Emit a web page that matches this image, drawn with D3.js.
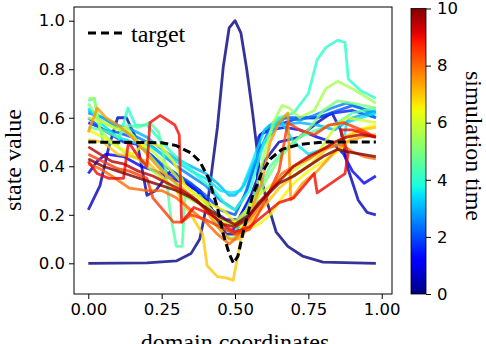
<!DOCTYPE html>
<html>
<head>
<meta charset="utf-8">
<script src="https://cdn.jsdelivr.net/npm/d3@7"></script>
<style>
  html, body { margin: 0; padding: 0; background: #fff; }
  svg { display: block; }
</style>
</head>
<body>
<div id="chart"></div>
<script>
// tick labels
const xTicks = [0, 0.25, 0.5, 0.75, 1.0];
const yTicks = [0, 0.2, 0.4, 0.6, 0.8, 1.0];
const cbTicks = [0, 2, 4, 6, 8, 10];

// target profile
const target = [[0,0.5],[0.25,0.497],[0.3,0.485],[0.35,0.455],[0.38,0.42],[0.41,0.35],[0.44,0.23],[0.46,0.12],[0.48,0.04],[0.495,0.0],[0.51,0.03],[0.53,0.14],[0.56,0.28],[0.59,0.37],[0.62,0.43],[0.66,0.47],[0.72,0.49],[0.8,0.5],[0.98,0.5]];

// simulation snapshots, one per time value
const times = [0, 0.5, 1, 1.5, 2, 2.5, 3, 3.5, 4, 4.5, 5, 5.5, 6, 6.5, 7, 7.5, 8, 8.5, 9, 9.5, 10];

const s00 = [[0,0],[0.2,0.002],[0.3,0.01],[0.35,0.04],[0.38,0.1],[0.41,0.28],[0.44,0.56],[0.46,0.81],[0.48,0.97],[0.5,1.0],[0.52,0.95],[0.54,0.8],[0.56,0.62],[0.585,0.37],[0.61,0.25],[0.64,0.13],[0.68,0.07],[0.73,0.03],[0.8,0.005],[0.98,0]];
const s05 = [[0,0.22],[0.04,0.32],[0.07,0.48],[0.1,0.6],[0.13,0.6],[0.165,0.51],[0.2,0.28],[0.23,0.3],[0.28,0.38],[0.33,0.34],[0.38,0.3],[0.43,0.2],[0.47,0.12],[0.5,0.12],[0.53,0.2],[0.57,0.33],[0.6,0.42],[0.65,0.5],[0.72,0.52],[0.78,0.58],[0.83,0.62],[0.86,0.55],[0.885,0.39],[0.92,0.26],[0.95,0.21],[0.98,0.2]];
const s10 = [[0,0.37],[0.03,0.42],[0.06,0.45],[0.12,0.44],[0.18,0.4],[0.23,0.38],[0.28,0.35],[0.33,0.33],[0.37,0.3],[0.41,0.25],[0.45,0.15],[0.49,0.13],[0.52,0.2],[0.55,0.27],[0.575,0.3],[0.585,0.53],[0.62,0.55],[0.67,0.56],[0.72,0.55],[0.78,0.52],[0.83,0.5],[0.87,0.45],[0.9,0.38],[0.94,0.33],[0.98,0.36]];
const s15 = [[0,0.58],[0.04,0.56],[0.08,0.53],[0.12,0.5],[0.17,0.49],[0.22,0.44],[0.27,0.37],[0.32,0.34],[0.37,0.3],[0.42,0.22],[0.47,0.18],[0.51,0.18],[0.55,0.26],[0.575,0.3],[0.58,0.52],[0.62,0.57],[0.67,0.58],[0.72,0.6],[0.78,0.6],[0.84,0.62],[0.9,0.63],[0.98,0.6]];
const s20 = [[0,0.6],[0.05,0.55],[0.1,0.54],[0.15,0.52],[0.2,0.46],[0.25,0.41],[0.3,0.37],[0.35,0.33],[0.4,0.28],[0.45,0.22],[0.5,0.2],[0.54,0.3],[0.58,0.45],[0.62,0.56],[0.67,0.6],[0.72,0.6],[0.78,0.6],[0.85,0.63],[0.9,0.65],[0.98,0.62]];
const s25 = [[0,0.62],[0.05,0.6],[0.1,0.56],[0.15,0.53],[0.2,0.5],[0.25,0.45],[0.3,0.4],[0.35,0.36],[0.4,0.32],[0.45,0.26],[0.5,0.22],[0.53,0.27],[0.57,0.42],[0.62,0.55],[0.67,0.6],[0.72,0.59],[0.77,0.61],[0.83,0.64],[0.88,0.66],[0.93,0.64],[0.98,0.6]];
const s30 = [[0,0.63],[0.05,0.6],[0.1,0.57],[0.15,0.55],[0.2,0.52],[0.25,0.47],[0.3,0.43],[0.35,0.4],[0.4,0.37],[0.44,0.33],[0.48,0.28],[0.5,0.28],[0.53,0.32],[0.56,0.4],[0.6,0.5],[0.65,0.57],[0.72,0.58],[0.78,0.57],[0.84,0.55],[0.9,0.6],[0.98,0.63]];
const s35 = [[0,0.64],[0.05,0.57],[0.1,0.52],[0.15,0.5],[0.2,0.49],[0.25,0.45],[0.3,0.42],[0.35,0.38],[0.4,0.35],[0.45,0.3],[0.49,0.29],[0.52,0.3],[0.56,0.42],[0.6,0.55],[0.65,0.6],[0.7,0.5],[0.75,0.45],[0.8,0.47],[0.87,0.5],[0.88,0.58],[0.93,0.6],[0.98,0.62]];
const s40 = [[0,0.67],[0.02,0.68],[0.05,0.5],[0.1,0.49],[0.135,0.64],[0.16,0.57],[0.2,0.57],[0.25,0.5],[0.29,0.45],[0.34,0.4],[0.38,0.35],[0.43,0.3],[0.47,0.24],[0.5,0.22],[0.55,0.3],[0.6,0.5],[0.65,0.6],[0.7,0.62],[0.75,0.7],[0.78,0.84],[0.81,0.89],[0.85,0.92],[0.875,0.91],[0.886,0.76],[0.93,0.71],[0.98,0.68]];
const s45 = [[0,0.56],[0.05,0.55],[0.1,0.52],[0.135,0.57],[0.17,0.56],[0.21,0.58],[0.24,0.54],[0.26,0.42],[0.28,0.2],[0.3,0.07],[0.32,0.07],[0.33,0.28],[0.38,0.28],[0.43,0.2],[0.47,0.14],[0.5,0.13],[0.54,0.2],[0.58,0.3],[0.62,0.4],[0.67,0.47],[0.72,0.52],[0.78,0.55],[0.85,0.58],[0.9,0.62],[0.98,0.64]];
const s50 = [[0,0.66],[0.03,0.6],[0.07,0.57],[0.12,0.55],[0.17,0.5],[0.22,0.43],[0.27,0.36],[0.32,0.3],[0.37,0.26],[0.42,0.2],[0.46,0.12],[0.49,0.1],[0.52,0.14],[0.56,0.22],[0.6,0.33],[0.65,0.43],[0.7,0.5],[0.75,0.55],[0.8,0.63],[0.85,0.67],[0.9,0.66],[0.98,0.64]];
const s55 = [[0,0.68],[0.02,0.68],[0.04,0.55],[0.08,0.5],[0.12,0.46],[0.17,0.43],[0.22,0.38],[0.27,0.33],[0.32,0.28],[0.37,0.25],[0.42,0.21],[0.47,0.17],[0.5,0.15],[0.53,0.2],[0.57,0.3],[0.6,0.45],[0.63,0.58],[0.66,0.65],[0.685,0.64],[0.72,0.6],[0.77,0.63],[0.81,0.72],[0.85,0.75],[0.9,0.72],[0.98,0.66]];
const s60 = [[0,0.6],[0.05,0.58],[0.1,0.55],[0.13,0.56],[0.17,0.5],[0.22,0.46],[0.27,0.4],[0.32,0.33],[0.37,0.28],[0.42,0.22],[0.46,0.16],[0.5,0.17],[0.54,0.22],[0.58,0.28],[0.62,0.32],[0.67,0.36],[0.72,0.4],[0.78,0.45],[0.84,0.56],[0.88,0.6],[0.93,0.59],[0.98,0.58]];
const s65 = [[0,0.55],[0.05,0.52],[0.1,0.48],[0.15,0.45],[0.2,0.5],[0.25,0.48],[0.29,0.42],[0.33,0.32],[0.38,0.27],[0.42,0.24],[0.46,0.22],[0.5,0.17],[0.54,0.14],[0.58,0.16],[0.62,0.2],[0.66,0.27],[0.7,0.33],[0.75,0.38],[0.8,0.42],[0.86,0.47],[0.92,0.55],[0.98,0.57]];
const s70 = [[0,0.51],[0.05,0.5],[0.1,0.45],[0.15,0.44],[0.2,0.42],[0.25,0.36],[0.3,0.3],[0.35,0.2],[0.39,0.12],[0.405,-0.01],[0.44,-0.055],[0.47,-0.06],[0.494,-0.07],[0.506,0.01],[0.52,0.1],[0.57,0.2],[0.61,0.25],[0.65,0.31],[0.7,0.36],[0.76,0.41],[0.82,0.48],[0.87,0.52],[0.93,0.55],[0.98,0.56]];
const s75 = [[0,0.54],[0.03,0.64],[0.06,0.6],[0.1,0.57],[0.15,0.52],[0.2,0.45],[0.25,0.38],[0.3,0.33],[0.35,0.28],[0.4,0.22],[0.44,0.15],[0.48,0.1],[0.51,0.1],[0.55,0.2],[0.59,0.33],[0.62,0.5],[0.65,0.58],[0.68,0.62],[0.69,0.26],[0.73,0.33],[0.78,0.38],[0.84,0.46],[0.88,0.5],[0.93,0.52],[0.98,0.53]];
const s80 = [[0,0.41],[0.04,0.39],[0.08,0.36],[0.14,0.31],[0.2,0.3],[0.25,0.3],[0.3,0.27],[0.35,0.22],[0.4,0.17],[0.44,0.12],[0.48,0.08],[0.5,0.1],[0.53,0.15],[0.58,0.23],[0.62,0.3],[0.66,0.37],[0.7,0.4],[0.75,0.43],[0.8,0.47],[0.86,0.49],[0.9,0.46],[0.94,0.44],[0.98,0.43]];
const s85 = [[0,0.45],[0.05,0.42],[0.1,0.39],[0.14,0.38],[0.2,0.35],[0.22,0.27],[0.29,0.17],[0.318,0.17],[0.35,0.2],[0.4,0.18],[0.45,0.15],[0.5,0.12],[0.55,0.14],[0.6,0.25],[0.65,0.38],[0.68,0.58],[0.72,0.55],[0.77,0.53],[0.82,0.57],[0.87,0.58],[0.93,0.55],[0.98,0.52]];
const s90 = [[0,0.42],[0.03,0.37],[0.07,0.35],[0.12,0.35],[0.137,0.5],[0.17,0.44],[0.2,0.4],[0.21,0.58],[0.245,0.61],[0.295,0.57],[0.31,0.53],[0.318,0.17],[0.36,0.23],[0.42,0.2],[0.47,0.15],[0.5,0.13],[0.55,0.15],[0.6,0.2],[0.65,0.25],[0.7,0.27],[0.77,0.37],[0.78,0.29],[0.875,0.37],[0.885,0.45],[0.86,0.55],[0.9,0.55],[0.98,0.52]];
const s95 = [[0,0.48],[0.04,0.45],[0.08,0.42],[0.12,0.41],[0.17,0.38],[0.22,0.36],[0.27,0.33],[0.32,0.3],[0.37,0.26],[0.42,0.2],[0.46,0.16],[0.5,0.15],[0.54,0.18],[0.58,0.25],[0.62,0.3],[0.66,0.35],[0.7,0.4],[0.75,0.44],[0.8,0.47],[0.84,0.5],[0.88,0.52],[0.93,0.53],[0.98,0.52]];
const s100 = [[0,0.43],[0.05,0.4],[0.1,0.38],[0.15,0.36],[0.2,0.34],[0.25,0.32],[0.3,0.3],[0.35,0.27],[0.4,0.23],[0.45,0.19],[0.5,0.16],[0.55,0.2],[0.6,0.27],[0.65,0.33],[0.7,0.36],[0.75,0.4],[0.8,0.44],[0.85,0.47],[0.88,0.46],[0.93,0.45],[0.98,0.44]];

const snapshots = [s00, s05, s10, s15, s20, s25, s30, s35, s40, s45, s50, s55, s60, s65, s70, s75, s80, s85, s90, s95, s100];

// matplotlib "jet"
const jetR = d3.scaleLinear().domain([0, 0.35, 0.66, 0.89, 1]).range([0, 0, 1, 1, 0.5]).clamp(true);
const jetG = d3.scaleLinear().domain([0, 0.125, 0.375, 0.64, 0.91, 1]).range([0, 0, 1, 1, 0, 0]).clamp(true);
const jetB = d3.scaleLinear().domain([0, 0.11, 0.34, 0.65, 1]).range([0.5, 1, 1, 0, 0]).clamp(true);
function jet(u) {
    return d3.rgb(jetR(u) * 255, jetG(u) * 255, jetB(u) * 255).formatHex();
}

const W = 486, H = 344;
const plot = { left: 74, right: 392, top: 7, bottom: 294 };
const cb = { left: 411, right: 426, top: 8.5, bottom: 294 };

const svg = d3.select('#chart').append('svg')
    .attr('width', W)
    .attr('height', H);

const x = d3.scaleLinear().domain([-0.0487, 1.035]).range([plot.left, plot.right]);
const y = d3.scaleLinear().domain([-0.1265, 1.0565]).range([plot.bottom, plot.top]);
const tScale = d3.scaleLinear().domain([0, 10]).range([cb.bottom, cb.top]);
const color = t => jet(t / 10);

const tickFont = '"DejaVu Sans", sans-serif';
const labelFont = '"Liberation Serif", "Times New Roman", serif';

// lines
const line = d3.line().x(d => x(d[0])).y(d => y(d[1]));
svg.append('clipPath').attr('id', 'clip')
    .append('rect')
    .attr('x', plot.left).attr('y', plot.top)
    .attr('width', plot.right - plot.left).attr('height', plot.bottom - plot.top);

const g = svg.append('g').attr('clip-path', 'url(#clip)');
snapshots.forEach((pts, i) => {
    g.append('path')
        .datum(pts)
        .attr('fill', 'none')
        .attr('stroke', color(times[i]))
        .attr('stroke-opacity', 0.8)
        .attr('stroke-width', 2.8)
        .attr('stroke-linejoin', 'round')
        .attr('d', line);
});

g.append('path')
    .datum(target)
    .attr('fill', 'none')
    .attr('stroke', '#000')
    .attr('stroke-width', 3)
    .attr('stroke-dasharray', '8,4')
    .attr('d', line);

// axes
const xAxis = svg.append('g')
    .attr('transform', `translate(0,${plot.bottom})`)
    .call(d3.axisBottom(x).tickValues(xTicks).tickFormat(d3.format('.2f')).tickSize(5).tickPadding(4));
const yAxis = svg.append('g')
    .attr('transform', `translate(${plot.left},0)`)
    .call(d3.axisLeft(y).tickValues(yTicks).tickFormat(d3.format('.1f')).tickSize(5).tickPadding(4));

[xAxis, yAxis].forEach(ax => {
    ax.select('.domain').remove();
    ax.selectAll('line').attr('stroke', '#000').attr('stroke-width', 1);
    ax.selectAll('text').attr('font-family', tickFont).attr('font-size', 16.5).attr('fill', '#000');
});

svg.append('rect')
    .attr('x', plot.left).attr('y', plot.top)
    .attr('width', plot.right - plot.left).attr('height', plot.bottom - plot.top)
    .attr('fill', 'none').attr('stroke', '#000').attr('stroke-width', 1);

// legend
svg.append('line')
    .attr('x1', 88).attr('x2', 123).attr('y1', 33).attr('y2', 33)
    .attr('stroke', '#000').attr('stroke-width', 3).attr('stroke-dasharray', '8,5');
svg.append('text')
    .attr('x', 131).attr('y', 41.5)
    .attr('font-family', labelFont).attr('font-size', 24)
    .text('target');

// axis labels
svg.append('text')
    .attr('x', (x(0) + x(1)) / 2).attr('y', 350)
    .attr('text-anchor', 'middle')
    .attr('font-family', labelFont).attr('font-size', 24)
    .text('domain coordinates');
svg.append('text')
    .attr('transform', 'translate(21,160) rotate(-90)')
    .attr('text-anchor', 'middle')
    .attr('font-family', labelFont).attr('font-size', 24)
    .text('state value');

// colorbar
const grad = svg.append('defs').append('linearGradient')
    .attr('id', 'jet').attr('x1', 0).attr('x2', 0).attr('y1', 1).attr('y2', 0);
d3.range(0, 1.0001, 0.02).forEach(u => {
    grad.append('stop').attr('offset', u).attr('stop-color', jet(u));
});
svg.append('rect')
    .attr('x', cb.left).attr('y', cb.top)
    .attr('width', cb.right - cb.left).attr('height', cb.bottom - cb.top)
    .attr('fill', 'url(#jet)')
    .attr('stroke', '#000').attr('stroke-width', 0.8);

const cAxis = svg.append('g')
    .attr('transform', `translate(${cb.right},0)`)
    .call(d3.axisRight(tScale).tickValues(cbTicks).tickSize(5).tickPadding(6));
cAxis.select('.domain').remove();
cAxis.selectAll('line').attr('stroke', '#000');
cAxis.selectAll('text').attr('font-family', tickFont).attr('font-size', 16.5).attr('fill', '#000');

svg.append('text')
    .attr('transform', 'translate(466,146) rotate(90)')
    .attr('text-anchor', 'middle')
    .attr('font-family', labelFont).attr('font-size', 24)
    .text('simulation time');
</script>
</body>
</html>
